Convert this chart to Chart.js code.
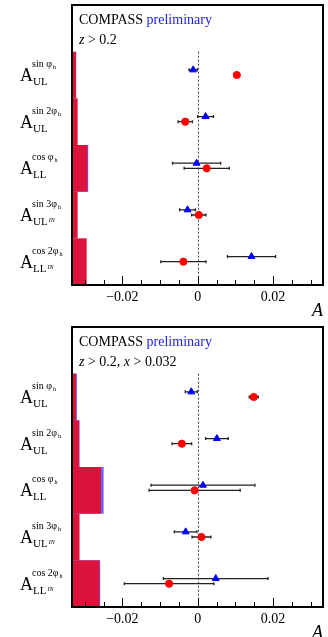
<!DOCTYPE html>
<html>
<head>
<meta charset="utf-8">
<script src="https://cdn.jsdelivr.net/npm/chart.js@4"></script>
<style>
  body { margin: 0; background: #fff; }
  canvas { display: block; }
</style>
</head>
<body>
<canvas id="c1" width="328" height="322"></canvas>
<canvas id="c2" width="328" height="315"></canvas>
<script>
// rows, top to bottom
const rowSup = ['sin φ', 'sin 2φ', 'cos φ', 'sin 3φ', 'cos 2φ'];
const rowSub = ['UL', 'UL', 'LL', 'UL', 'LL'];
const rowIN = [false, false, false, true, true];

const tickLabels = [-0.02, 0, 0.02];
const xMin = -0.0334;
const xMax = 0.0333;

// panel 1 : z > 0.2
const p1CircleVal = [0.0104, -0.0033, 0.0024, 0.0003, -0.0038];
const p1CircleErr = [0.0006, 0.0019, 0.0060, 0.0019, 0.0060];
const p1TriVal = [-0.0012, 0.0021, -0.0003, -0.0027, 0.0143];
const p1TriErr = [0.0011, 0.0021, 0.0064, 0.0021, 0.0064];
const p1CircleSys = [0.0011, 0.0015, 0.0041, 0.0015, 0.0039];
const p1TriSys = [0.0002, 0.0002, 0.0043, 0.0002, 0.0002];

// panel 2 : z > 0.2, x > 0.032
const p2CircleVal = [0.0149, -0.0042, -0.0008, 0.0010, -0.0076];
const p2CircleErr = [0.0012, 0.0026, 0.0121, 0.0025, 0.0119];
const p2TriVal = [-0.0017, 0.0051, 0.0014, -0.0032, 0.0048];
const p2TriErr = [0.0016, 0.0030, 0.0138, 0.0030, 0.0139];
const p2CircleSys = [0.0011, 0.0019, 0.0077, 0.0020, 0.0073];
const p2TriSys = [0.0013, 0.0020, 0.0084, 0.0004, 0.0075];

const p1Cut = [['z', true], [' > 0.2', false]];
const p2Cut = [['z', true], [' > 0.2, ', false], ['x', true], [' > 0.032', false]];

const SERIF = "'Liberation Serif', 'Times New Roman', serif";
const CIRCLE_OFF = 0.5;
const TRI_OFF = 0.61;

function rowBase(i) { return 4 - i; }

const panelPlugin = {
  id: 'panel',
  beforeDatasetsDraw(chart, args, opts) {
    const ctx = chart.ctx;
    const xs = chart.scales.x, ys = chart.scales.y;
    const a = chart.chartArea;
    ctx.save();
    // systematic bands
    for (let i = 0; i < 5; i++) {
      const yTop = ys.getPixelForValue(rowBase(i) + 1);
      const yBot = ys.getPixelForValue(rowBase(i));
      const xb = xs.getPixelForValue(xMin + opts.triSys[i]);
      ctx.fillStyle = '#6464ff';
      ctx.fillRect(a.left, yTop, xb - a.left, yBot - yTop);
      const xr = xs.getPixelForValue(xMin + opts.circSys[i]);
      ctx.fillStyle = '#dc143c';
      ctx.fillRect(a.left, yTop, xr - a.left, yBot - yTop);
    }
    // dotted zero line
    ctx.strokeStyle = '#444';
    ctx.lineWidth = 1;
    ctx.setLineDash([2, 2]);
    const x0 = Math.round(xs.getPixelForValue(0)) + 0.5;
    ctx.beginPath();
    ctx.moveTo(x0, ys.getPixelForValue(5));
    ctx.lineTo(x0, a.bottom);
    ctx.stroke();
    ctx.setLineDash([]);
    // error bars
    ctx.strokeStyle = '#222';
    ctx.lineWidth = 1.3;
    const drawErr = (vals, errs, off) => {
      for (let i = 0; i < 5; i++) {
        const y = ys.getPixelForValue(rowBase(i) + off);
        const l = xs.getPixelForValue(vals[i] - errs[i]);
        const r = xs.getPixelForValue(vals[i] + errs[i]);
        ctx.beginPath();
        ctx.moveTo(l, y); ctx.lineTo(r, y);
        ctx.moveTo(l, y - 1.5); ctx.lineTo(l, y + 1.5);
        ctx.moveTo(r, y - 1.5); ctx.lineTo(r, y + 1.5);
        ctx.stroke();
      }
    };
    drawErr(opts.triVal, opts.triErr, TRI_OFF);
    drawErr(opts.circVal, opts.circErr, CIRCLE_OFF);
    ctx.restore();
  },
  afterDraw(chart, args, opts) {
    const ctx = chart.ctx;
    const xs = chart.scales.x, ys = chart.scales.y;
    const a = chart.chartArea;
    ctx.save();
    // ticks
    ctx.strokeStyle = '#000';
    ctx.lineWidth = 1;
    for (let k = -30; k <= 30; k += 5) {
      const x = Math.round(xs.getPixelForValue(k / 1000)) + 0.5;
      const len = k % 20 === 0 ? 9 : 5;
      ctx.beginPath();
      ctx.moveTo(x, a.bottom);
      ctx.lineTo(x, a.bottom - len);
      ctx.stroke();
    }
    // frame
    ctx.lineWidth = 2;
    ctx.strokeRect(a.left, a.top, a.right - a.left, a.bottom - a.top);
    // header
    ctx.textBaseline = 'alphabetic';
    ctx.font = '14px ' + SERIF;
    ctx.fillStyle = '#000';
    ctx.fillText('COMPASS', a.left + 7, a.top + 18.5);
    const w = ctx.measureText('COMPASS ').width;
    ctx.fillStyle = '#2020ff';
    ctx.fillText('preliminary', a.left + 7 + w, a.top + 18.5);
    ctx.fillStyle = '#000';
    let cx = a.left + 7;
    for (const [t, it] of opts.cut) {
      ctx.font = (it ? 'italic ' : '') + '14px ' + SERIF;
      ctx.fillText(t, cx, a.top + 38.5);
      cx += ctx.measureText(t).width;
    }
    // row labels
    for (let i = 0; i < 5; i++) {
      const c = ys.getPixelForValue(rowBase(i) + CIRCLE_OFF);
      ctx.font = '18px ' + SERIF;
      ctx.fillText('A', 20, c + 6);
      ctx.font = '11px ' + SERIF;
      ctx.fillText(rowSub[i], 33, c + 10);
      const ulw = ctx.measureText(rowSub[i]).width;
      if (rowIN[i]) {
        ctx.font = 'italic 6px ' + SERIF;
        ctx.fillText('IN', 34 + ulw, c + 7);
      }
      ctx.font = '10px ' + SERIF;
      ctx.fillText(rowSup[i], 32, c - 8);
      const sw = ctx.measureText(rowSup[i]).width;
      ctx.font = '6px ' + SERIF;
      ctx.fillText('h', 33 + sw, c - 6);
    }
    // axis title
    ctx.font = 'italic 18px ' + SERIF;
    ctx.fillText('A', a.right - 11, a.bottom + 31);
    ctx.restore();
  }
};

function makeChart(id, axisH, d) {
  new Chart(document.getElementById(id), {
    type: 'scatter',
    data: {
      datasets: [
        {
          data: d.triVal.map((v, i) => ({ x: v, y: rowBase(i) + TRI_OFF })),
          pointStyle: 'triangle',
          pointRadius: 4,
          backgroundColor: '#0000ff',
          borderColor: '#0000ff',
          borderWidth: 1
        },
        {
          data: d.circVal.map((v, i) => ({ x: v, y: rowBase(i) + CIRCLE_OFF })),
          pointStyle: 'circle',
          pointRadius: 3.6,
          backgroundColor: '#ff0000',
          borderColor: '#ff0000',
          borderWidth: 1
        }
      ]
    },
    options: {
      responsive: false,
      animation: false,
      layout: { padding: { left: 72, right: 5, top: 5, bottom: 0 } },
      plugins: {
        legend: { display: false },
        tooltip: { enabled: false },
        panel: d
      },
      scales: {
        x: {
          type: 'linear',
          min: xMin,
          max: xMax,
          grid: { display: false, drawTicks: false },
          border: { display: false },
          ticks: {
            stepSize: 0.01,
            autoSkip: false,
            maxRotation: 0,
            padding: 4,
            color: '#000',
            font: { family: SERIF, size: 14 },
            callback: (v) => {
              const hit = tickLabels.find(t => Math.abs(t - v) < 1e-9);
              if (hit === undefined) return '';
              return hit === 0 ? '0' : (hit < 0 ? '\u2212' : '') + Math.abs(hit).toFixed(2);
            }
          },
          afterFit: (axis) => { axis.height = axisH; }
        },
        y: { display: false, min: 0, max: 6 }
      }
    },
    plugins: [panelPlugin]
  });
}

makeChart('c1', 37, {
  circVal: p1CircleVal, circErr: p1CircleErr, circSys: p1CircleSys,
  triVal: p1TriVal, triErr: p1TriErr, triSys: p1TriSys, cut: p1Cut
});
makeChart('c2', 30, {
  circVal: p2CircleVal, circErr: p2CircleErr, circSys: p2CircleSys,
  triVal: p2TriVal, triErr: p2TriErr, triSys: p2TriSys, cut: p2Cut
});
</script>
</body>
</html>
